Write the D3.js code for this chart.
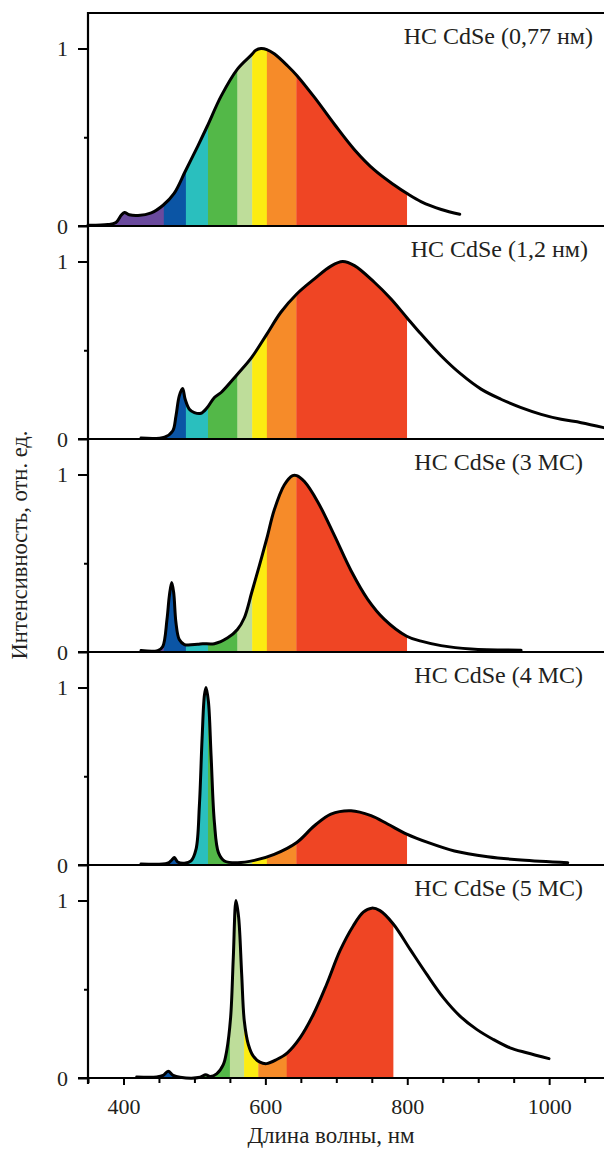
<!DOCTYPE html>
<html>
<head>
<meta charset="utf-8">
<script src="https://cdn.jsdelivr.net/npm/d3@7"></script>
<style>
  html, body { margin: 0; padding: 0; background: #fff; }
  svg { display: block; }
</style>
</head>
<body>
<svg id="chart" width="604" height="1149"></svg>
<script>
// ---------- DATA ----------
const panelTitles = ["НС CdSe (0,77 нм)", "НС CdSe (1,2 нм)", "НС CdSe (3 МС)", "НС CdSe (4 МС)", "НС CdSe (5 МС)"];

const bandEdges = [380, 450, 480, 510, 550, 570, 590, 630, 780];
const bandColors = ["#6a4a9d", "#0b55a5", "#2abfbe", "#53b848", "#bedd9a", "#fcec12", "#f68b29", "#ef4524"];

const wl1 = [347, 374, 385, 392, 396.5, 403, 415, 433, 449, 464, 479, 496, 509, 528, 550, 569, 575, 582, 590, 600, 618, 631, 655, 682, 709, 736, 763, 780, 800, 827, 852];
const int1 = [0.004, 0.008, 0.02, 0.06, 0.076, 0.063, 0.059, 0.074, 0.117, 0.184, 0.307, 0.449, 0.562, 0.733, 0.884, 0.964, 0.99, 1.0, 0.994, 0.97, 0.903, 0.847, 0.723, 0.572, 0.43, 0.316, 0.231, 0.184, 0.136, 0.093, 0.066];

const wl2 = [419, 451, 462, 466.5, 471, 475.6, 479, 484.7, 491.5, 500.5, 509, 518.7, 527.8, 550, 569.4, 590, 609, 630.6, 654.6, 677, 693, 709, 736, 758.7, 780, 799.5, 826.6, 853.8, 881, 908, 935.4, 962.6, 989.8, 1017, 1047.8];
const int2 = [0.005, 0.01, 0.045, 0.13, 0.243, 0.284, 0.224, 0.168, 0.149, 0.145, 0.177, 0.234, 0.262, 0.365, 0.46, 0.591, 0.714, 0.817, 0.902, 0.974, 1.0, 0.977, 0.883, 0.789, 0.685, 0.591, 0.469, 0.365, 0.281, 0.224, 0.177, 0.139, 0.111, 0.092, 0.064];

const wl3 = [419, 441.7, 448.4, 454.3, 457.5, 460.7, 463.4, 466.5, 471, 478, 496, 502.8, 518.7, 536.8, 550, 559.4, 569.4, 579.8, 589.8, 600, 613.6, 625, 630.6, 641, 659, 681.7, 704.4, 727, 749.7, 780, 799.5, 826.6, 867.4, 935.4];
const int3 = [0.008, 0.008, 0.03, 0.184, 0.316, 0.392, 0.335, 0.165, 0.07, 0.042, 0.044, 0.047, 0.047, 0.08, 0.127, 0.193, 0.335, 0.487, 0.638, 0.8, 0.941, 0.994, 0.994, 0.96, 0.847, 0.657, 0.458, 0.297, 0.184, 0.089, 0.061, 0.036, 0.017, 0.01];

const wl4 = [419, 455, 460.7, 464.3, 468.8, 478, 487, 493.8, 498.3, 502, 505.2, 507.4, 510.6, 514.2, 518.7, 524.2, 532.3, 550.4, 573, 600, 630.6, 654.6, 677, 704.4, 731.5, 754, 780, 808.6, 844.8, 890, 935.4, 998.8];
const int4 = [0.006, 0.01, 0.028, 0.042, 0.017, 0.01, 0.023, 0.089, 0.335, 0.713, 0.958, 1.0, 0.92, 0.618, 0.24, 0.07, 0.023, 0.013, 0.026, 0.06, 0.127, 0.221, 0.287, 0.306, 0.278, 0.231, 0.174, 0.127, 0.079, 0.047, 0.028, 0.013];

const wl5 = [418.6, 446.8, 456, 463, 470, 479.7, 508, 515.8, 522, 531.3, 540.7, 545.4, 551, 554.8, 558.6, 562.3, 566.6, 570.3, 576, 583, 592.4, 601.8, 616, 631, 648.8, 667.6, 686.4, 705.2, 724, 738, 749.8, 761.5, 780.3, 803.8, 827.3, 850.8, 874.3, 897.8, 921.3, 944.8, 968.3, 999.8];
const int5 = [0.006, 0.006, 0.015, 0.038, 0.015, 0.004, 0.004, 0.019, 0.008, 0.023, 0.075, 0.151, 0.34, 0.679, 1.0, 0.906, 0.585, 0.321, 0.189, 0.123, 0.089, 0.081, 0.104, 0.142, 0.226, 0.358, 0.528, 0.717, 0.858, 0.934, 0.957, 0.943, 0.868, 0.726, 0.585, 0.453, 0.349, 0.274, 0.217, 0.17, 0.142, 0.109];

const xMajorTicks = [400, 600, 800, 1000];
const xMinorTicks = [350, 450, 500, 550, 650, 700, 750, 850, 900, 950, 1050];
const yMajorTicks = [0, 1];
const yMinorTicks = [0.5];
const xTitle = "Длина волны, нм";
const yTitle = "Интенсивность, отн. ед.";

// ---------- LAYOUT ----------
const FONT = "Liberation Serif";
const TXT = "#231f20";
const left = 88, right = 604, top0 = 13, panelH = 213;
const titleRight = [593, 588, 583, 583, 583];
const series = [[wl1, int1], [wl2, int2], [wl3, int3], [wl4, int4], [wl5, int5]];

// panels 1-4 were drawn on a slightly different wavelength scale than panel 5 / bottom axis
const xPanels = d3.scaleLinear().domain([347, 1048]).range([left, right]);
const xAxisScale = d3.scaleLinear().domain([350, 1077.3]).range([left, right]);

const svg = d3.select("#chart");
const defs = svg.append("defs");
const curve = d3.curveCatmullRom.alpha(0.5);

series.forEach(([wl, val], i) => {
  const x = i < 4 ? xPanels : xAxisScale;
  const pTop = top0 + i * panelH;
  const pZero = pTop + panelH;
  const y = d3.scaleLinear().domain([0, 1.2]).range([pZero, pTop]);
  const pts = wl.map((w, k) => [w, val[k]]);

  const area = d3.area().x(d => x(d[0])).y0(y(0)).y1(d => y(d[1])).curve(curve);
  const line = d3.line().x(d => x(d[0])).y(d => y(d[1])).curve(curve);

  const clipId = "clip" + i;
  defs.append("clipPath").attr("id", clipId).append("path").attr("d", area(pts));

  const g = svg.append("g");
  const bands = d3.range(bandColors.length).map(b => ({ a: bandEdges[b], b: bandEdges[b + 1], c: bandColors[b] }));
  g.append("g").attr("clip-path", `url(#${clipId})`)
    .selectAll("rect").data(bands).join("rect")
    .attr("x", d => x(d.a)).attr("width", d => x(d.b) - x(d.a) + 0.3)
    .attr("y", pTop).attr("height", panelH)
    .attr("fill", d => d.c);

  g.append("path").attr("d", line(pts)).attr("fill", "none")
    .attr("stroke", "#000").attr("stroke-width", 3).attr("stroke-linejoin", "round").attr("stroke-linecap", "round");

  if (i === 0) {
    svg.append("line").attr("x1", left).attr("x2", right).attr("y1", pTop).attr("y2", pTop)
      .attr("stroke", "#000").attr("stroke-width", 2.2);
  }
  svg.append("line").attr("x1", left - 10).attr("x2", right).attr("y1", pZero).attr("y2", pZero)
    .attr("stroke", "#000").attr("stroke-width", 2.2);

  const yMaj = svg.append("g").attr("transform", `translate(${left},0)`)
    .call(d3.axisLeft(y).tickValues(yMajorTicks).tickSize(10).tickPadding(10).tickFormat(d3.format("d")));
  yMaj.select(".domain").remove();
  yMaj.selectAll("line").attr("stroke", "#000").attr("stroke-width", 2);
  yMaj.selectAll("text").attr("font-size", 22).attr("font-family", FONT).attr("fill", TXT);
  const yMin = svg.append("g").attr("transform", `translate(${left},0)`)
    .call(d3.axisLeft(y).tickValues(yMinorTicks).tickSize(4).tickFormat(""));
  yMin.select(".domain").remove();
  yMin.selectAll("line").attr("stroke", "#000").attr("stroke-width", 2);

  svg.append("text").attr("x", titleRight[i]).attr("y", pTop + 30.5)
    .attr("text-anchor", "end").attr("font-size", 24).attr("font-family", FONT).attr("fill", TXT)
    .text(panelTitles[i]);
});

const bottom = top0 + 5 * panelH;
svg.append("line").attr("x1", left).attr("x2", left).attr("y1", top0 - 1).attr("y2", bottom + 6)
  .attr("stroke", "#000").attr("stroke-width", 2.2);

const xMaj = svg.append("g").attr("transform", `translate(0,${bottom})`)
  .call(d3.axisBottom(xAxisScale).tickValues(xMajorTicks).tickSize(7).tickPadding(13).tickFormat(d3.format("d")));
xMaj.select(".domain").remove();
xMaj.selectAll("line").attr("stroke", "#000").attr("stroke-width", 2);
xMaj.selectAll("text").attr("font-size", 22).attr("font-family", FONT).attr("fill", TXT);
const xMin = svg.append("g").attr("transform", `translate(0,${bottom})`)
  .call(d3.axisBottom(xAxisScale).tickValues(xMinorTicks).tickSize(5).tickFormat(""));
xMin.select(".domain").remove();
xMin.selectAll("line").attr("stroke", "#000").attr("stroke-width", 2);

svg.append("text").attr("x", 331).attr("y", 1143).attr("text-anchor", "middle")
  .attr("font-size", 23).attr("font-family", FONT).attr("fill", TXT).text(xTitle);

svg.append("text").attr("transform", "translate(27,545) rotate(-90)").attr("text-anchor", "middle")
  .attr("font-size", 22.5).attr("font-family", FONT).attr("fill", TXT).text(yTitle);
</script>
</body>
</html>
